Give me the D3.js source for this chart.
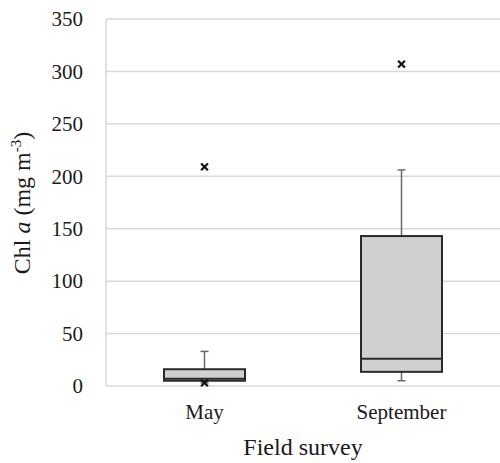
<!DOCTYPE html>
<html>
<head>
<meta charset="utf-8">
<script src="https://cdn.jsdelivr.net/npm/d3@7"></script>
<style>
  body { margin: 0; background: #fff; }
  text { font-family: "Liberation Serif", "Times New Roman", serif; fill: #1a1a1a; }
</style>
</head>
<body>
<script>
// values (Chl a, mg m-3)
const surveys = ["May", "September"];
const whiskerLow = [3, 5];
const q1 = [5, 13.5];
const median = [7, 26];
const q3 = [16, 143];
const whiskerHigh = [33, 206];
const outliers = [[209, 3], [307]];
const yTicks = [0, 50, 100, 150, 200, 250, 300, 350];

const width = 500, height = 463;
const margin = {top: 19, right: 0, bottom: 77, left: 106};

const x = d3.scaleBand(surveys, [margin.left, width - margin.right]);
const y = d3.scaleLinear([0, 350], [height - margin.bottom, margin.top]);

const svg = d3.select("body").append("svg")
    .attr("width", width)
    .attr("height", height);

// gridlines
svg.append("g")
  .selectAll("line")
  .data(yTicks)
  .join("line")
    .attr("x1", margin.left)
    .attr("x2", width - margin.right)
    .attr("y1", d => y(d))
    .attr("y2", d => y(d))
    .attr("stroke", "#d9d9d9")
    .attr("stroke-width", 1.5);

svg.append("line")
    .attr("x1", margin.left).attr("x2", margin.left)
    .attr("y1", y(350)).attr("y2", y(0))
    .attr("stroke", "#d9d9d9")
    .attr("stroke-width", 1.5);

// y axis labels
svg.append("g")
    .attr("transform", `translate(${margin.left - 23},0)`)
    .call(d3.axisLeft(y).tickValues(yTicks).tickSize(0).tickPadding(0))
    .call(g => g.select(".domain").remove())
    .call(g => g.selectAll("text")
      .attr("font-size", 21)
      .attr("font-family", "Liberation Serif")
      .attr("fill", "#1a1a1a"));

// x axis labels
svg.append("g")
    .attr("transform", `translate(0,${y(0)})`)
    .call(d3.axisBottom(x).tickSize(0).tickPadding(18))
    .call(g => g.select(".domain").remove())
    .call(g => g.selectAll("text")
      .attr("font-size", 21)
      .attr("font-family", "Liberation Serif")
      .attr("fill", "#1a1a1a"));

const boxW = 81;
const capW = 8;
const g = svg.append("g")
  .selectAll("g")
  .data(surveys)
  .join("g")
    .attr("transform", d => `translate(${x(d) + x.bandwidth() / 2},0)`);

// whiskers
g.append("line")
    .attr("y1", (d, i) => y(whiskerHigh[i]))
    .attr("y2", (d, i) => y(q3[i]))
    .attr("stroke", "#6b6b6b").attr("stroke-width", 1.5);
g.append("line")
    .attr("y1", (d, i) => y(whiskerLow[i]))
    .attr("y2", (d, i) => y(q1[i]))
    .attr("stroke", "#6b6b6b").attr("stroke-width", 1.5);
g.append("line")
    .attr("x1", -capW / 2).attr("x2", capW / 2)
    .attr("y1", (d, i) => y(whiskerHigh[i]))
    .attr("y2", (d, i) => y(whiskerHigh[i]))
    .attr("stroke", "#6b6b6b").attr("stroke-width", 1.5);
g.append("line")
    .attr("x1", -capW / 2).attr("x2", capW / 2)
    .attr("y1", (d, i) => y(whiskerLow[i]))
    .attr("y2", (d, i) => y(whiskerLow[i]))
    .attr("stroke", "#6b6b6b").attr("stroke-width", 1.5);

// boxes
g.append("rect")
    .attr("x", -boxW / 2)
    .attr("width", boxW)
    .attr("y", (d, i) => y(q3[i]))
    .attr("height", (d, i) => y(q1[i]) - y(q3[i]))
    .attr("fill", "#d0d0d0")
    .attr("stroke", "#2b2b2b")
    .attr("stroke-width", 2);
g.append("line")
    .attr("x1", -boxW / 2).attr("x2", boxW / 2)
    .attr("y1", (d, i) => y(median[i]))
    .attr("y2", (d, i) => y(median[i]))
    .attr("stroke", "#2b2b2b").attr("stroke-width", 2);

// outliers
const cross = d3.symbol(d3.symbolX, 32);
g.each(function(d, i) {
  d3.select(this).selectAll("path")
    .data(outliers[i])
    .join("path")
      .attr("d", cross)
      .attr("transform", v => `translate(0,${y(v)})`)
      .attr("fill", "none")
      .attr("stroke", "#111")
      .attr("stroke-width", 2.2);
});

// axis titles
svg.append("text")
    .attr("x", (margin.left + width) / 2)
    .attr("y", 455)
    .attr("text-anchor", "middle")
    .attr("font-size", 24)
    .text("Field survey");

const yt = svg.append("text")
    .attr("transform", "translate(30,203) rotate(-90)")
    .attr("text-anchor", "middle")
    .attr("font-size", 24);
yt.append("tspan").text("Chl ");
yt.append("tspan").attr("font-style", "italic").text("a");
yt.append("tspan").text(" (mg m");
yt.append("tspan").attr("font-size", 15).attr("dy", -9).text("-3");
yt.append("tspan").attr("dy", 9).text(")");
</script>
</body>
</html>
